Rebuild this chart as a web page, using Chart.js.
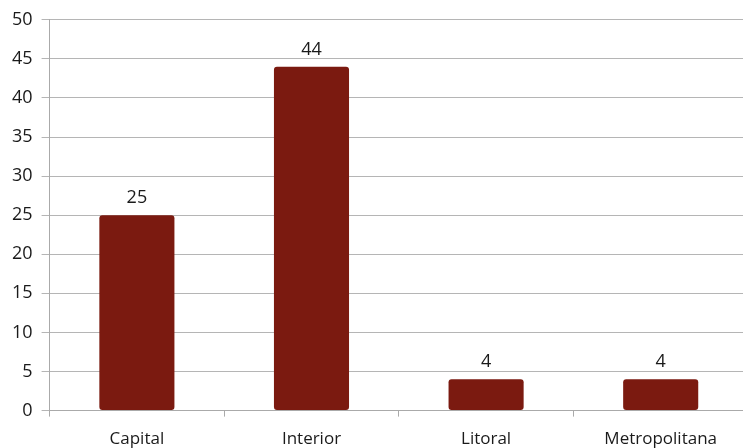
<!DOCTYPE html>
<html>
<head>
<meta charset="utf-8">
<script src="https://cdn.jsdelivr.net/npm/chart.js@4"></script>
<style>
  html, body { margin: 0; padding: 0; background: #fff; overflow: hidden; }
  #wrap { width: 748px; height: 461px; }
</style>
</head>
<body>
<div id="wrap"><canvas id="chart"></canvas></div>
<script>
// chart data
const categories = ['Capital', 'Interior', 'Litoral', 'Metropolitana'];
const values = [25, 44, 4, 4];

// draw the value above each bar
const barLabels = {
  id: 'barLabels',
  afterDatasetsDraw(chart) {
    const ctx = chart.ctx;
    ctx.save();
    ctx.font = '18px "Open Sans", Lato, sans-serif';
    ctx.fillStyle = '#1a1a1a';
    ctx.textAlign = 'center';
    ctx.textBaseline = 'bottom';
    chart.getDatasetMeta(0).data.forEach((bar, i) => {
      ctx.fillText(values[i], bar.x, bar.y - 8);
    });
    ctx.restore();
  }
};

const ctx = document.getElementById('chart').getContext('2d');
new Chart(ctx, {
  type: 'bar',
  data: {
    labels: categories,
    datasets: [{
      data: values,
      backgroundColor: '#7b1a10',
      borderRadius: 3,
      borderSkipped: false,
      categoryPercentage: 1,
      barPercentage: 0.43
    }]
  },
  options: {
    responsive: true,
    maintainAspectRatio: false,
    animation: false,
    layout: { padding: { top: 19, right: 0, left: 3, bottom: 0 } },
    plugins: { legend: { display: false }, tooltip: { enabled: false } },
    scales: {
      x: {
        grid: { display: true, drawOnChartArea: false, color: '#aaa', tickLength: 6 },
        border: { color: '#aaa' },
        ticks: { color: '#1a1a1a', font: { family: '"Open Sans", Lato, sans-serif', size: 17 }, padding: 12 }
      },
      y: {
        min: 0,
        max: 50,
        grid: { color: '#b5b5b5', tickLength: 8 },
        border: { color: '#aaa' },
        ticks: { stepSize: 5, color: '#1a1a1a', font: { family: '"Open Sans", Lato, sans-serif', size: 18 }, padding: 9 }
      }
    }
  },
  plugins: [barLabels]
});
</script>
</body>
</html>
